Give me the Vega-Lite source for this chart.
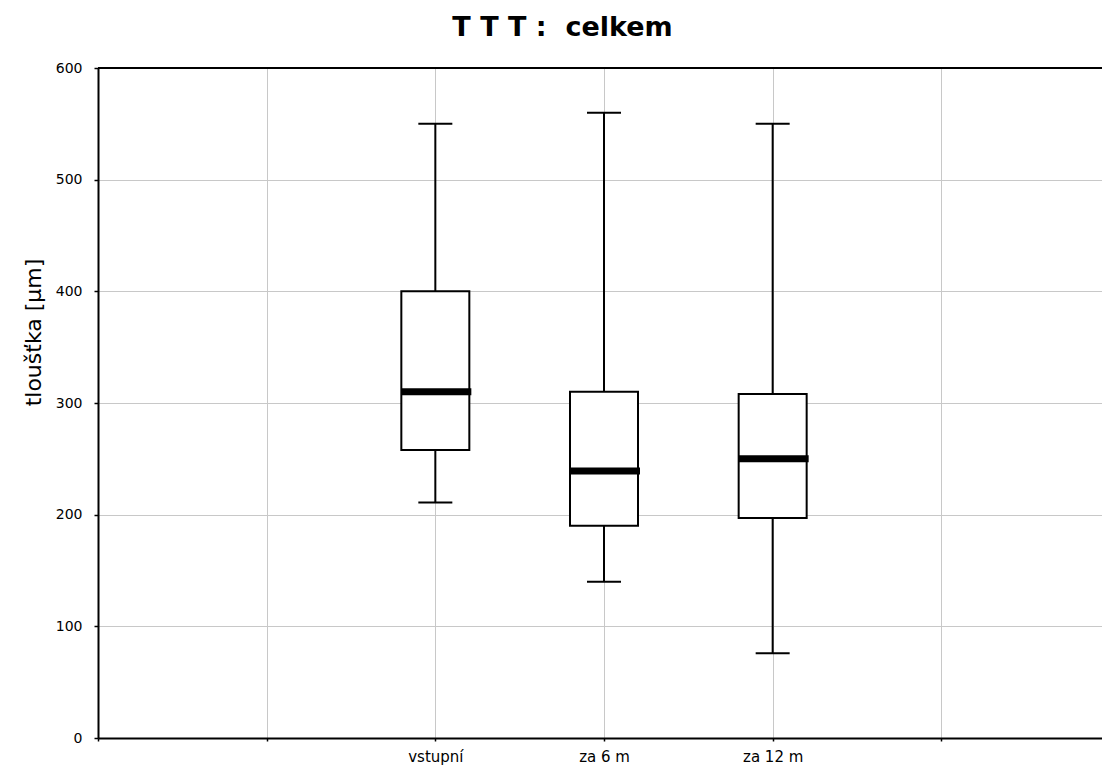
{
  "$schema": "https://vega.github.io/schema/vega-lite/v6.json",
  "autosize": {"type": "none"},
  "padding": {"left": 98, "top": 68, "right": 0, "bottom": 36},
  "width": 1004,
  "height": 670,
  "background": "white",
  "config": {
    "view": {"stroke": null},
    "font": "DejaVu Sans",
    "axis": {
      "domainColor": "black",
      "domainWidth": 2,
      "tickColor": "black",
      "tickWidth": 1.5,
      "gridColor": "#c8c8c8",
      "gridWidth": 1,
      "labelFont": "DejaVu Sans",
      "labelFontSize": 14,
      "labelColor": "black",
      "titleFont": "DejaVu Sans",
      "titleColor": "black"
    }
  },
  "title": {
    "text": "T T T :\u00a0\u00a0celkem",
    "font": "DejaVu Sans",
    "fontSize": 27,
    "fontWeight": "bold",
    "color": "black",
    "anchor": "middle",
    "frame": "bounds",
    "offset": 19,
    "dx": -4
  },
  "data": {
    "values": [
      {"obdobi": "vstupní", "min": 211, "q1": 258, "median": 310, "q3": 400, "max": 550},
      {"obdobi": "za 6 m", "min": 140, "q1": 190, "median": 239, "q3": 310, "max": 560},
      {"obdobi": "za 12 m", "min": 76, "q1": 197, "median": 250, "q3": 308, "max": 550}
    ]
  },
  "encoding": {
    "x": {
      "field": "obdobi",
      "type": "nominal",
      "scale": {
        "type": "point",
        "domain": ["_1", "_2", "vstupní", "za 6 m", "za 12 m", "_3", "_4"],
        "range": [0, 1012],
        "padding": 0
      },
      "axis": {
        "title": null,
        "grid": true,
        "labelAngle": 0,
        "labelFontSize": 15,
        "tickSize": 3,
        "labelPadding": 8,
        "labelExpr": "indexof(datum.value, '_') == 0 ? '' : datum.value"
      }
    }
  },
  "layer": [
    {
      "mark": {"type": "rule", "color": "black", "strokeWidth": 2},
      "encoding": {
        "y": {
          "field": "min",
          "type": "quantitative",
          "scale": {"domain": [0, 600], "nice": false},
          "axis": {
            "title": "tloušťka [µm]",
            "titleFontSize": 22,
            "titleFontWeight": "normal",
            "titlePadding": 10,
            "titleY": 264,
            "values": [0, 100, 200, 300, 400, 500, 600],
            "tickSize": 4,
            "labelPadding": 12,
            "grid": true
          }
        },
        "y2": {"field": "max"}
      }
    },
    {
      "mark": {"type": "tick", "color": "black", "opacity": 1, "size": 34, "thickness": 2},
      "encoding": {"y": {"field": "min", "type": "quantitative"}}
    },
    {
      "mark": {"type": "tick", "color": "black", "opacity": 1, "size": 34, "thickness": 2},
      "encoding": {"y": {"field": "max", "type": "quantitative"}}
    },
    {
      "mark": {"type": "bar", "fill": "white", "stroke": "black", "strokeWidth": 2, "size": 68},
      "encoding": {
        "y": {"field": "q1", "type": "quantitative"},
        "y2": {"field": "q3"}
      }
    },
    {
      "mark": {"type": "tick", "color": "black", "opacity": 1, "size": 70, "thickness": 7, "xOffset": 1},
      "encoding": {"y": {"field": "median", "type": "quantitative"}}
    },
    {
      "data": {"values": [{"hranice": 600}]},
      "mark": {"type": "rule", "color": "black", "strokeWidth": 2},
      "encoding": {"x": null, "y": {"field": "hranice", "type": "quantitative"}}
    }
  ]
}
